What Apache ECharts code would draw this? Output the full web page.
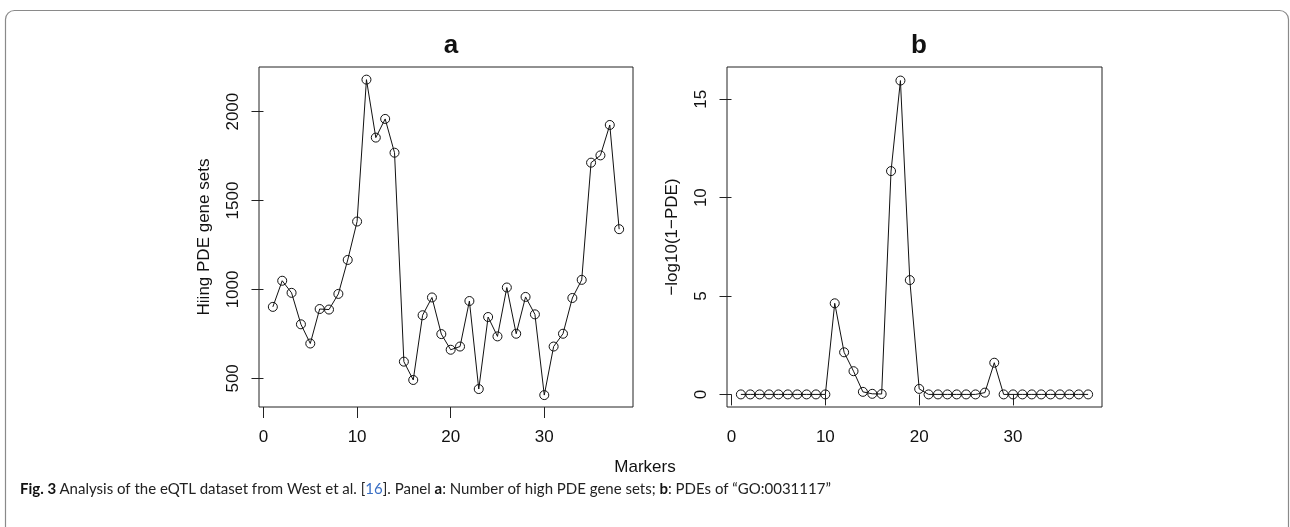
<!DOCTYPE html>
<html>
<head>
<meta charset="utf-8">
<script src="https://cdn.jsdelivr.net/npm/echarts@6/dist/echarts.min.js"></script>
<style>html,body{margin:0;padding:0;background:#fff;}#c{width:1290px;height:527px;}</style>
</head>
<body>
<div id="c"></div>
<script>
const markers = [1,2,3,4,5,6,7,8,9,10,11,12,13,14,15,16,17,18,19,20,21,22,23,24,25,26,27,28,29,30,31,32,33,34,35,36,37,38];
const highPdeGeneSets = [902,1049,981,804,696,890,887,975,1166,1382,2180,1854,1959,1769,594,491,855,955,749,661,679,935,440,845,736,1011,751,958,860,406,679,751,952,1054,1713,1754,1925,1339];
const negLogPde = [0,0,0,0,0,0,0,0,0,0,4.63,2.14,1.18,0.13,0.03,0.02,11.35,15.95,5.81,0.28,0,0,0,0,0,0,0.09,1.61,0,0,0,0,0,0,0,0,0,0];
const xTicks = [0,10,20,30];
const yTicksA = [500,1000,1500,2000];
const yTicksB = [0,5,10,15];

const FONT = '"Liberation Sans", Arial, Helvetica, sans-serif';
const chart = echarts.init(document.getElementById('c'), null, {renderer:'canvas'});

function xAxis(gi){
  return {
    type:'value', gridIndex:gi, min:-0.48, max:39.48,
    axisLine:{show:false},
    axisTick:{show:true, length:11, inside:false, customValues:xTicks, lineStyle:{color:'#222',width:1}},
    axisLabel:{show:true, customValues:xTicks, margin:22, color:'#111', fontSize:17, fontFamily:FONT, formatter:v=>String(v)},
    splitLine:{show:false}
  };
}
function yAxis(gi,min,max,ticks,name){
  return {
    type:'value', gridIndex:gi, min:min, max:max,
    name:name, nameLocation:'middle', nameGap:46, nameRotate:90,
    nameTextStyle:{color:'#111', fontSize:17, fontFamily:FONT},
    axisLine:{show:false},
    axisTick:{show:true, length:12, inside:false, customValues:ticks, lineStyle:{color:'#222',width:1}},
    axisLabel:{show:true, customValues:ticks, rotate:90, margin:17, color:'#111', fontSize:17, fontFamily:FONT, formatter:v=>String(v)},
    splitLine:{show:false}
  };
}
function series(gi,data){
  return {
    type:'line', xAxisIndex:gi, yAxisIndex:gi,
    data: markers.map((m,i)=>[m,data[i]]),
    symbol:'circle', symbolSize:9, showAllSymbol:true,
    lineStyle:{color:'#111', width:1},
    itemStyle:{color:'rgba(0,0,0,0)', borderColor:'#111', borderWidth:1},
    emphasis:{disabled:true}, animation:false, silent:true, z:3
  };
}

chart.setOption({
  animation:false,
  backgroundColor:'#fff',
  title:[
    {text:'a', left:446, top:28, textAlign:'center', textStyle:{fontSize:26, fontWeight:'bold', color:'#111', fontFamily:FONT}},
    {text:'b', left:914, top:28, textAlign:'center', textStyle:{fontSize:26, fontWeight:'bold', color:'#111', fontFamily:FONT}}
  ],
  grid:[
    {left:259, top:67, width:374, height:340, show:true, borderColor:'#222', borderWidth:1, backgroundColor:'transparent'},
    {left:727, top:67, width:375, height:340, show:true, borderColor:'#222', borderWidth:1, backgroundColor:'transparent'}
  ],
  xAxis:[xAxis(0), xAxis(1)],
  yAxis:[
    yAxis(0,339,2251,yTicksA,'Hiing PDE gene sets'),
    yAxis(1,-0.64,16.64,yTicksB,'\u2212log10(1\u2212PDE)')
  ],
  series:[series(0,highPdeGeneSets), series(1,negLogPde)],
  graphic:[
    {type:'rect', shape:{x:5.5, y:10.5, width:1283, height:600, r:[9,9,0,0]}, style:{fill:'none', stroke:'#8a8a8a', lineWidth:1.2}, silent:true},
    {type:'text', left:'center', top:459, style:{text:'Markers', fill:'#111', font:'17px ' + FONT}, silent:true},
    {type:'text', left:20, top:482, style:{
      text:'{b|Fig. 3} {n|Analysis of the eQTL dataset from West et al. [}{l|16}{n|]. Panel }{b|a}{n|: Number of high PDE gene sets; }{b|b}{n|: PDEs of \u201CGO:0031117\u201D}',
      rich:{
        n:{fontSize:15, fontFamily:'Lato, sans-serif', fill:'#222'},
        b:{fontSize:15, fontFamily:'Lato, sans-serif', fontWeight:'bold', fill:'#111'},
        l:{fontSize:15, fontFamily:'Lato, sans-serif', fill:'#3a6fc4'}
      }
    }, silent:true}
  ]
});
</script>
</body>
</html>
